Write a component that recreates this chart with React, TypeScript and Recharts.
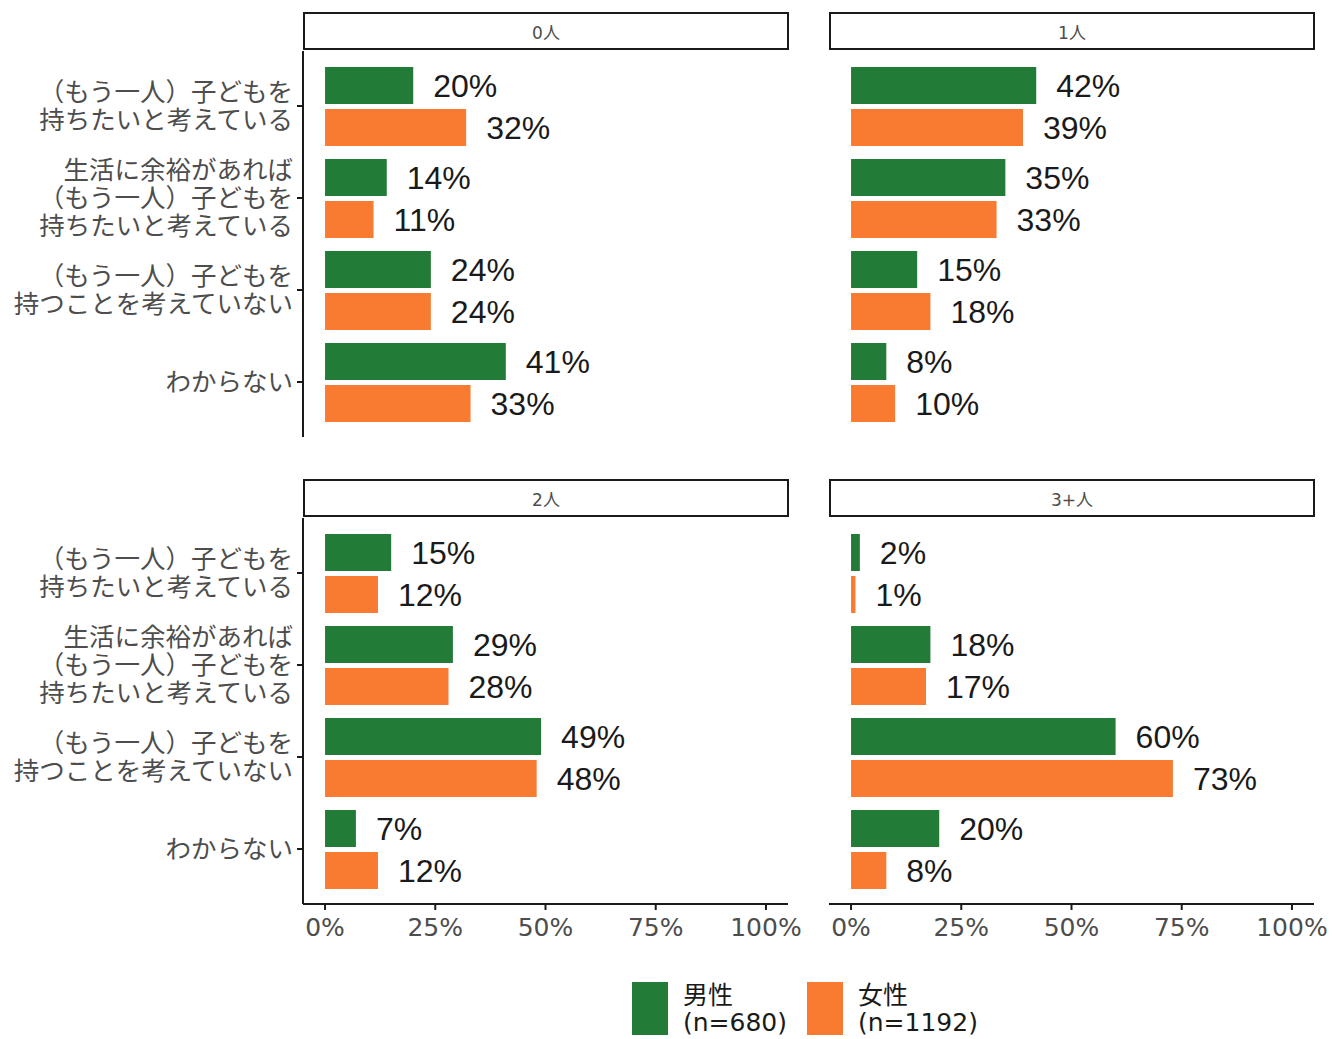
import { BarChart, Bar, XAxis, YAxis, LabelList } from 'recharts';

const categories = [
  '（もう一人）子どもを\n持ちたいと考えている',
  '生活に余裕があれば\n（もう一人）子どもを\n持ちたいと考えている',
  '（もう一人）子どもを\n持つことを考えていない',
  'わからない',
];

const panels = ['0人', '1人', '2人', '3+人'];

const male0 = [20, 14, 24, 41];
const female0 = [32, 11, 24, 33];
const male1 = [42, 35, 15, 8];
const female1 = [39, 33, 18, 10];
const male2 = [15, 29, 49, 7];
const female2 = [12, 28, 48, 12];
const male3 = [2, 18, 60, 20];
const female3 = [1, 17, 73, 8];

const xTicks = [0, 25, 50, 75, 100];

const GREEN = '#227B37';
const ORANGE = '#F97B31';
const JP = '"Noto Sans CJK JP", "Noto Sans", sans-serif';
const MIX = '"DejaVu Sans", "Noto Sans CJK JP", sans-serif';
const LAT = '"Liberation Sans", Arial, sans-serif';

const seriesByPanel = [
  [male0, female0],
  [male1, female1],
  [male2, female2],
  [male3, female3],
];

const CatTick = (props: any) => {
  const { x, y, payload } = props;
  const lines = String(payload.value).split('\n');
  const lh = 28;
  const start = y - ((lines.length - 1) * lh) / 2;
  return (
    <text x={x} y={start} textAnchor="end" fontSize={25.5} fill="#4D4D4D" fontFamily={JP}>
      {lines.map((l, i) => (
        <tspan key={i} x={x} dy={i === 0 ? '0.36em' : lh}>
          {l}
        </tspan>
      ))}
    </text>
  );
};

function Panel({ idx, left, top, showY, showX }: any) {
  const [m, f] = seriesByPanel[idx];
  const data = categories.map((c, i) => ({ cat: c, male: m[i], female: f[i] }));
  const yw = showY ? 303 : 0;
  const plotH = 386;
  const xh = showX ? 60 : 0;
  const extraRight = 40;
  return (
    <div style={{ position: 'absolute', left, top }}>
      <BarChart
        width={yw + 485 + extraRight}
        height={plotH + xh}
        data={data}
        layout="vertical"
        margin={{ top: 0, right: extraRight, bottom: 0, left: 0 }}
        barCategoryGap={7}
        barGap={5}
      >
        <XAxis
          type="number"
          domain={[-5, 105]}
          ticks={xTicks}
          hide={!showX}
          height={xh}
          tickFormatter={(v) => `${v}%`}
          tick={{ fontSize: 25, fill: '#4D4D4D', fontFamily: MIX }}
          tickSize={6}
          tickMargin={8}
          axisLine={{ stroke: '#1a1a1a', strokeWidth: 2 }}
          tickLine={{ stroke: '#1a1a1a', strokeWidth: 2 }}
        />
        <YAxis
          type="category"
          dataKey="cat"
          hide={!showY}
          width={yw}
          interval={0}
          padding={{ top: 9, bottom: 9 }}
          tick={<CatTick />}
          tickSize={6}
          tickMargin={4}
          axisLine={{ stroke: '#1a1a1a', strokeWidth: 2 }}
          tickLine={{ stroke: '#1a1a1a', strokeWidth: 2 }}
        />
        <Bar dataKey="male" fill={GREEN} isAnimationActive={false}>
          <LabelList
            dataKey="male"
            position="right"
            offset={20}
            formatter={(v: any) => `${v}%`}
            style={{ fontSize: 32, fill: '#1a1a1a', fontFamily: LAT }}
          />
        </Bar>
        <Bar dataKey="female" fill={ORANGE} isAnimationActive={false}>
          <LabelList
            dataKey="female"
            position="right"
            offset={20}
            formatter={(v: any) => `${v}%`}
            style={{ fontSize: 32, fill: '#1a1a1a', fontFamily: LAT }}
          />
        </Bar>
      </BarChart>
    </div>
  );
}

const Strip = ({ text, left, top }: any) => (
  <div
    style={{
      position: 'absolute',
      left,
      top,
      width: 486,
      height: 38,
      boxSizing: 'border-box',
      border: '2px solid #1a1a1a',
      background: '#fff',
      display: 'flex',
      alignItems: 'center',
      justifyContent: 'center',
      fontFamily: MIX,
      fontSize: 17,
      color: '#4D4D4D',
    }}
  >
    {text}
  </div>
);

const LegendItem = ({ color, lines, left }: any) => (
  <div style={{ position: 'absolute', left, top: 982, display: 'flex' }}>
    <div style={{ width: 36, height: 53, background: color }} />
    <div style={{ marginLeft: 15, fontFamily: MIX, fontSize: 25, lineHeight: '27px', color: '#1a1a1a', marginTop: 0 }}>
      {lines.map((l: string, i: number) => (
        <div key={i}>{l}</div>
      ))}
    </div>
  </div>
);

export default function App() {
  return (
    <div style={{ position: 'absolute', left: 0, top: 0, width: 1333, height: 1039, background: '#fff', overflow: 'hidden' }}>
      <Strip text={panels[0]} left={303} top={12} />
      <Strip text={panels[1]} left={829} top={12} />
      <Strip text={panels[2]} left={303} top={479} />
      <Strip text={panels[3]} left={829} top={479} />
      <Panel idx={0} left={0} top={51} showY showX={false} />
      <Panel idx={1} left={829} top={51} showY={false} showX={false} />
      <Panel idx={2} left={0} top={518} showY showX />
      <Panel idx={3} left={829} top={518} showY={false} showX />
      <LegendItem color={GREEN} lines={['男性', '(n=680)']} left={632} />
      <LegendItem color={ORANGE} lines={['女性', '(n=1192)']} left={807} />
    </div>
  );
}
